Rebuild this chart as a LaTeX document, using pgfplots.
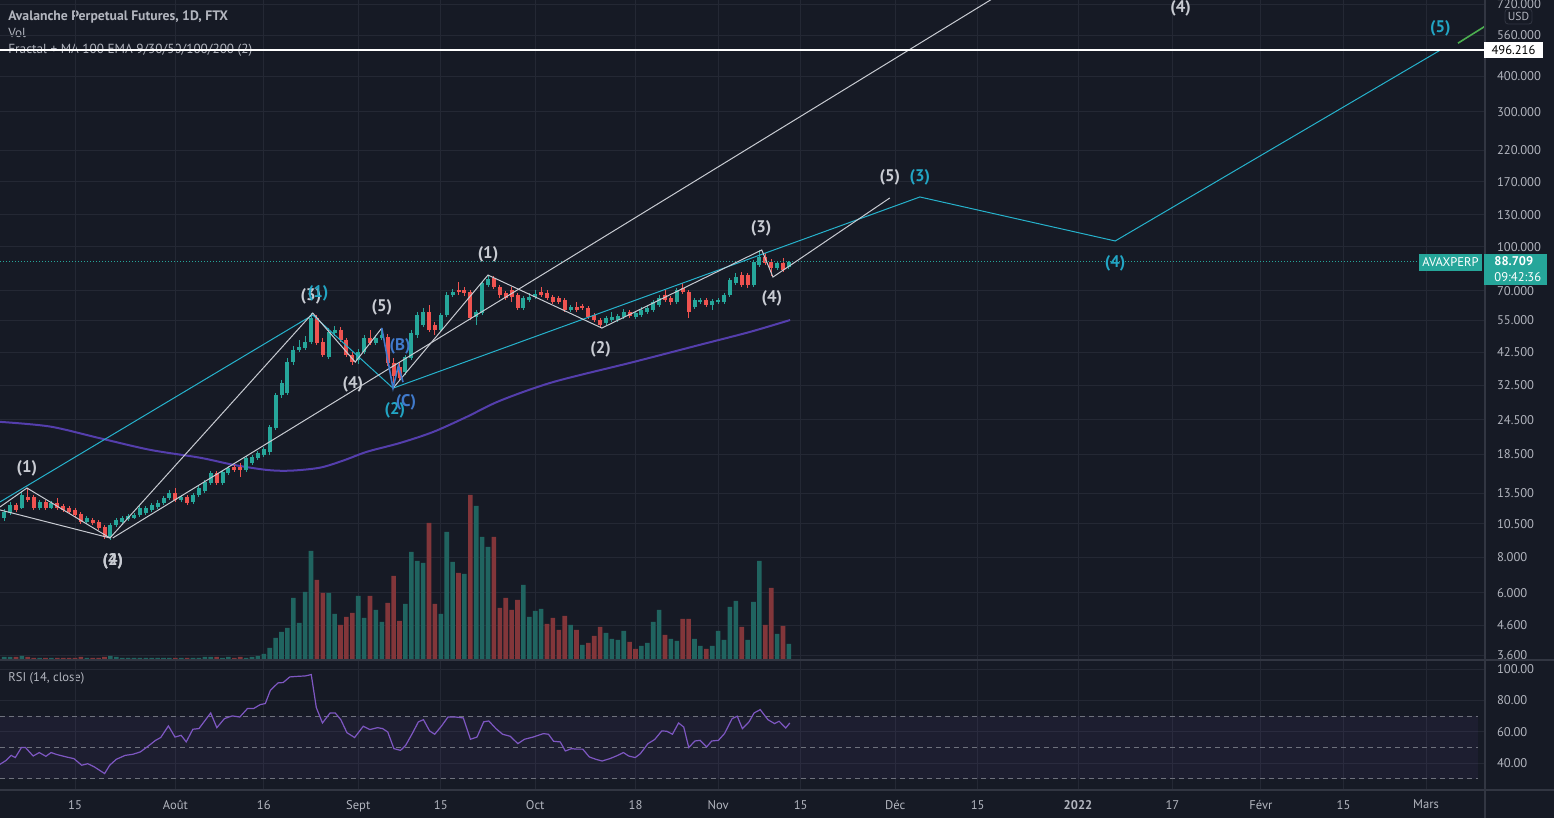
\documentclass[border=0pt]{standalone}
\usepackage{pgfplots}
\pgfplotsset{compat=1.18}
\usepackage{fontspec}
\setmainfont{PT Sans}
\definecolor{bg}{RGB}{22,26,37}
\definecolor{gridc}{RGB}{36,40,52}
\definecolor{sepc}{RGB}{50,54,66}
\definecolor{txt}{RGB}{178,181,190}
\definecolor{upc}{RGB}{38,166,154}
\definecolor{dnc}{RGB}{239,83,80}
\definecolor{volup}{RGB}{32,100,96}
\definecolor{voldn}{RGB}{130,54,58}
\definecolor{wavew}{RGB}{200,203,210}
\definecolor{cyanw}{RGB}{38,178,204}
\definecolor{cyanl}{RGB}{34,165,196}
\definecolor{bluew}{RGB}{64,122,204}
\definecolor{mac}{RGB}{84,62,172}
\definecolor{rsic}{RGB}{126,87,194}
\definecolor{dashc}{RGB}{110,113,124}
\definecolor{greenl}{RGB}{76,175,80}
\newcommand\fs[1]{\fontsize{#1}{#1}\selectfont}
\begin{document}
\begin{tikzpicture}
\fill[bg] (0pt,0pt) rectangle (777pt,409pt);
\useasboundingbox (0pt,0pt) rectangle (777pt,409pt);
\node[anchor=west, inner sep=0pt, text=txt, font=\fs{6.85pt}\bfseries] at (4pt,400.65pt) {Avalanche Perpetual Futures, 1D, FTX};
\node[anchor=west, inner sep=0pt, text=txt, font=\fs{6.6pt}] at (4pt,392.35pt) {Vol};
\node[anchor=west, inner sep=0pt, text=txt, font=\fs{6.6pt}] at (4pt,383.65pt) {Fractal + MA 100 EMA 9/30/50/100/200 (2)};
\node[anchor=west, inner sep=0pt, text=txt, font=\fs{6.3pt}] at (4pt,70pt) {RSI (14, close)};

% grid axis with price labels
\begin{axis}[
  at={(0pt,79pt)}, anchor=south west, scale only axis,
  width=742.5pt, height=330pt,
  xmin=1.2881, xmax=252.98,
  ymode=log, ymin=3.472, ymax=746.2,
  axis line style={draw=none},
  xtick={14,31,46,62,76,92,109,123,137,153,167,184,200,215,229,243},
  xticklabel=\empty,
  ytick={3.6,4.6,6,8,10.5,13.5,18.5,24.5,32.5,42.5,55,70,100,130,170,220,300,400,560,720},
  yticklabels={3.600,4.600,6.000,8.000,10.500,13.500,18.500,24.500,32.500,42.500,55.000,70.000,100.000,130.000,170.000,220.000,300.000,400.000,560.000,720.000},
  yticklabel pos=right,
  yticklabel style={anchor=west, xshift=2.5pt, text=txt, font=\fs{6.3pt}},
  major tick length=0pt, minor tick length=0pt,
  xmajorgrids, ymajorgrids,
  major grid style={draw=gridc, line width=0.5pt},
  clip=false,
]
\addplot[draw=none] coordinates {(10,10)(20,20)};
\end{axis}

% volume
\begin{axis}[at={(0pt,79pt)}, anchor=south west, scale only axis, width=742.5pt, height=330pt,
  xmin=1.2881, xmax=252.98, ymin=0, ymax=660, hide axis]
\addplot[ybar, bar width=0.78, bar shift=0pt, fill=volup, draw=none] coordinates {
(2,3)(3,3)(5,4)(8,2)(10,2)(16,2)(20,4)(21,3)(22,2)(23,2)(24,2)(25,2)(26,2)(27,2)(28,2)(29,2)(30,2)(32,2)(34,2)(35,2)(36,3)(37,3)(39,2)(40,3)(43,2)(44,3)(45,4)
(46,6)(47,12)(48,22)(49,28)(50,32)(51,62)(52,37)(53,68)(54,109)(57,67)(58,46)(62,64)(63,42)(65,50)(66,38)(70,56)(71,108)(72,99)(73,97)(76,46)(77,128)(78,98)(80,86)(82,154)(83,123)(84,113)(90,75)(91,43)(92,49)(93,51)(98,35)(100,15)(104,27)(105,21)(106,20)(107,29)(110,14)(111,17)(112,38)(113,50)(115,21)(116,19)(119,21)(120,14)(122,14)(123,29)(124,20)(125,53)(126,59)(128,20)(129,58)(130,99)(133,26)(135,16)};
\addplot[ybar, bar width=0.78, bar shift=0pt, fill=voldn, draw=none] coordinates {
(4,3)(6,3)(7,2)(9,2)(11,2)(12,2)(13,2)(14,2)(15,3)(17,2)(18,2)(19,3)(31,2)(33,2)(38,3)(41,2)(42,3)
(55,80)(56,67)(59,35)(60,43)(61,47)(64,64)(67,57)(68,84)(69,39)(74,137)(75,56)(79,87)(81,165)(85,123)(86,52)(87,62)(88,50)(89,60)(94,36)(95,42)(96,30)(97,44)(99,30)(101,17)(102,24)(103,33)(108,18)(109,11)(114,25)(117,41)(118,41)(121,11)(127,33)(131,35)(132,72)(134,34)};
\end{axis}

% price data
\begin{axis}[at={(0pt,79pt)}, anchor=south west, scale only axis, width=742.5pt, height=330pt,
  xmin=1.2881, xmax=252.98, ymode=log, ymin=3.472, ymax=746.2, hide axis, unbounded coords=jump]
\addplot[mac, line width=1pt, smooth] coordinates {(1.29,24.1)(9.76,23.2)(18.2,21.1)(26.7,19.2)(35.2,18.0)(40.8,17.0)(46.5,16.3)(50.5,16.2)(55.5,16.6)(59.5,17.6)(63.5,18.9)(69.1,20.3)(74.7,22.2)(80.4,25.1)(86.0,28.6)(95.0,33.3)(108.6,39.2)(119.9,45.1)(128.4,50.1)(135.2,55.2)};
% green wicks
\addplot[upc, line width=0.5pt] coordinates {(2,10.76)(2,11.87)(2,nan) (3,11.30)(3,12.56)(3,nan) (5,11.87)(5,13.63)(5,nan) (8,11.77)(8,12.77)(8,nan) (10,11.87)(10,12.67)(10,nan) (16,10.50)(16,11.21)(16,nan) (20,9.22)(20,10.59)(20,nan) (21,10.25)(21,11.03)(21,nan) (22,10.50)(22,11.21)(22,nan) (23,10.76)(23,11.40)(23,nan) (24,10.94)(24,11.49)(24,nan) (25,11.12)(25,12.26)(25,nan) (26,11.30)(26,12.16)(26,nan) (27,11.58)(27,12.46)(27,nan) (28,11.87)(28,12.77)(28,nan) (29,12.26)(29,13.19)(29,nan) (30,12.77)(30,13.85)(30,nan) (32,12.56)(32,13.30)(32,nan) (34,12.36)(34,13.52)(34,nan) (35,13.08)(35,14.30)(35,nan) (36,13.52)(36,15.02)(36,nan) (37,14.42)(37,16.16)(37,nan) (39,14.42)(39,16.29)(39,nan) (40,15.64)(40,16.8)(40,nan) (43,16.03)(43,18.3)(43,nan) (44,17.0)(44,18.4)(44,nan) (45,17.67)(45,19.0)(45,nan) (46,18.1)(46,19.65)(46,nan) (47,18.4)(47,23.5)(47,nan) (48,22.6)(48,30.5)(48,nan) (49,29.3)(49,33.9)(49,nan) (50,30.0)(50,40.5)(50,nan) (51,38.3)(51,44.7)(51,nan) (52,42.6)(52,46.9)(52,nan) (53,43.3)(53,48.5)(53,nan) (54,45.4)(54,58.4)(54,nan) (57,40.2)(57,51.7)(57,nan) (58,48.5)(58,52.6)(58,nan) (62,38.6)(62,43.6)(62,nan) (63,41.9)(63,48.9)(63,nan) (65,45.1)(65,48.9)(65,nan) (66,46.9)(66,51.7)(66,nan) (70,35.3)(70,41.5)(70,nan) (71,39.9)(71,50.9)(71,nan) (72,47.7)(72,58.9)(72,nan) (73,52.1)(73,60.9)(73,nan) (76,50.1)(76,58.4)(76,nan) (77,56.6)(77,69.3)(77,nan) (78,66.6)(78,71.1)(78,nan) (82,53.0)(82,59.9)(82,nan) (83,57.5)(83,75.8)(83,nan) (84,72.2)(84,79.6)(84,nan) (90,59.9)(90,67.1)(90,nan) (91,63.9)(91,68.8)(91,nan) (92,65.5)(92,70.5)(92,nan) (98,58.9)(98,62.4)(98,nan) (104,53.0)(104,57.0)(104,nan) (105,54.3)(105,58.9)(105,nan) (106,54.3)(106,58.0)(106,nan) (107,55.7)(107,60.4)(107,nan) (109,55.7)(109,59.4)(109,nan) (110,56.6)(110,61.4)(110,nan) (111,58.0)(111,62.4)(111,nan) (112,58.9)(112,65.0)(112,nan) (113,61.4)(113,67.7)(113,nan) (116,62.9)(116,71.6)(116,nan) (119,60.4)(119,66.0)(119,nan) (120,62.9)(120,66.0)(120,nan) (122,59.9)(122,65.5)(122,nan) (123,62.9)(123,66.0)(123,nan) (124,62.9)(124,68.8)(124,nan) (125,66.6)(125,77.7)(125,nan) (126,73.4)(126,80.9)(126,nan) (129,72.2)(129,90.0)(129,nan) (130,85.0)(130,97.6)(130,nan) (133,82.9)(133,89.2)(133,nan) (135,83.6)(135,89.2)};
% green bodies
\addplot[upc, line width=2pt] coordinates {(2,11.03)(2,11.58)(2,nan) (3,11.49)(3,12.26)(3,nan) (5,11.97)(5,13.30)(5,nan) (8,11.97)(8,12.56)(8,nan) (10,11.97)(10,12.46)(10,nan) (16,10.68)(16,11.03)(16,nan) (20,9.45)(20,10.42)(20,nan) (21,10.42)(21,10.85)(21,nan) (22,10.68)(22,11.03)(22,nan) (23,10.94)(23,11.21)(23,nan) (24,11.03)(24,11.30)(24,nan) (25,11.30)(25,11.97)(25,nan) (26,11.49)(26,11.97)(26,nan) (27,11.77)(27,12.26)(27,nan) (28,12.06)(28,12.46)(28,nan) (29,12.46)(29,12.98)(29,nan) (30,12.98)(30,13.52)(30,nan) (32,12.77)(32,13.08)(32,nan) (34,12.56)(34,13.30)(34,nan) (35,13.30)(35,14.07)(35,nan) (36,13.74)(36,14.78)(36,nan) (37,14.66)(37,15.90)(37,nan) (39,14.66)(39,16.03)(39,nan) (40,15.90)(40,16.55)(40,nan) (43,16.29)(43,18.0)(43,nan) (44,17.2)(44,18.1)(44,nan) (45,18.0)(45,18.7)(45,nan) (46,18.4)(46,19.33)(46,nan) (47,18.9)(47,23.1)(47,nan) (48,22.9)(48,30.0)(48,nan) (49,30.0)(49,33.1)(49,nan) (50,30.5)(50,39.2)(50,nan) (51,39.2)(51,43.3)(51,nan) (52,43.3)(52,44.3)(52,nan) (53,44.0)(53,46.2)(53,nan) (54,46.2)(54,56.1)(54,nan) (57,40.9)(57,50.1)(57,nan) (58,49.7)(58,50.9)(58,nan) (62,39.9)(62,42.6)(62,nan) (63,42.6)(63,47.7)(63,nan) (65,45.8)(65,47.7)(65,nan) (66,47.7)(66,48.9)(66,nan) (70,36.2)(70,40.9)(70,nan) (71,40.5)(71,49.7)(71,nan) (72,48.9)(72,57.5)(72,nan) (73,53.0)(73,58.9)(73,nan) (76,50.9)(76,57.5)(76,nan) (77,57.5)(77,67.7)(77,nan) (78,67.7)(78,69.3)(78,nan) (82,56.6)(82,58.9)(82,nan) (83,58.4)(83,74.6)(83,nan) (84,73.4)(84,77.1)(84,nan) (90,60.9)(90,66.0)(90,nan) (91,65.0)(91,66.6)(91,nan) (92,66.6)(92,68.2)(92,nan) (98,59.9)(98,61.4)(98,nan) (104,53.9)(104,56.1)(104,nan) (105,55.2)(105,56.6)(105,nan) (106,55.2)(106,57.0)(106,nan) (107,56.6)(107,58.9)(107,nan) (109,56.6)(109,58.4)(109,nan) (110,57.5)(110,59.9)(110,nan) (111,58.9)(111,60.9)(111,nan) (112,59.9)(112,63.9)(112,nan) (113,62.4)(113,66.0)(113,nan) (116,63.9)(116,70.5)(116,nan) (119,61.4)(119,65.0)(119,nan) (120,63.9)(120,65.0)(120,nan) (122,62.4)(122,64.4)(122,nan) (123,63.9)(123,65.0)(123,nan) (124,63.9)(124,67.7)(124,nan) (125,67.7)(125,76.5)(125,nan) (126,74.6)(126,78.3)(126,nan) (129,73.4)(129,88.5)(129,nan) (130,86.4)(130,92.2)(130,nan) (133,84.3)(133,87.8)(133,nan) (135,85.0)(135,88.709)};
% red wicks
\addplot[dnc, line width=0.5pt] coordinates {(4,11.58)(4,12.46)(4,nan) (6,12.56)(6,14.07)(6,nan) (7,11.77)(7,13.30)(7,nan) (9,11.77)(9,12.77)(9,nan) (11,11.77)(11,12.98)(11,nan) (12,11.58)(12,12.36)(12,nan) (13,11.40)(13,12.16)(13,nan) (14,11.12)(14,11.97)(14,nan) (15,10.50)(15,11.58)(15,nan) (17,10.42)(17,11.03)(17,nan) (18,10.00)(18,10.85)(18,nan) (19,9.30)(19,10.42)(19,nan) (31,12.56)(31,14.07)(31,nan) (33,12.26)(33,13.30)(33,nan) (38,14.42)(38,16.16)(38,nan) (41,16.03)(41,17.0)(41,nan) (42,15.39)(42,17.2)(42,nan) (55,45.1)(55,57.5)(55,nan) (56,40.9)(56,47.7)(56,nan) (59,46.2)(59,52.1)(59,nan) (60,40.9)(60,47.7)(60,nan) (61,38.3)(61,42.6)(61,nan) (64,45.1)(64,50.9)(64,nan) (67,38.0)(67,49.3)(67,nan) (68,33.1)(68,40.5)(68,nan) (69,33.6)(69,39.2)(69,nan) (74,50.1)(74,62.4)(74,nan) (75,48.9)(75,54.3)(75,nan) (79,67.7)(79,75.2)(79,nan) (80,67.1)(80,72.2)(80,nan) (81,55.2)(81,70.5)(81,nan) (85,71.1)(85,79.0)(85,nan) (86,66.0)(86,73.4)(86,nan) (87,65.0)(87,69.9)(87,nan) (88,63.9)(88,72.2)(88,nan) (89,59.9)(89,68.8)(89,nan) (93,66.6)(93,72.2)(93,nan) (94,65.0)(94,70.5)(94,nan) (95,62.9)(95,67.7)(95,nan) (96,62.9)(96,67.1)(96,nan) (97,58.9)(97,66.0)(97,nan) (99,58.9)(99,63.9)(99,nan) (100,59.9)(100,62.9)(100,nan) (101,55.7)(101,61.9)(101,nan) (102,54.3)(102,58.4)(102,nan) (103,51.7)(103,56.1)(103,nan) (108,56.1)(108,59.9)(108,nan) (114,63.9)(114,70.5)(114,nan) (115,62.4)(115,67.1)(115,nan) (117,68.2)(117,74.6)(117,nan) (118,56.1)(118,70.5)(118,nan) (121,61.4)(121,66.0)(121,nan) (127,72.2)(127,81.6)(127,nan) (128,71.6)(128,80.9)(128,nan) (131,86.4)(131,95.2)(131,nan) (132,79.0)(132,90.7)(132,nan) (134,81.6)(134,91.4)};
% red bodies
\addplot[dnc, line width=2pt] coordinates {(4,12.26)(4,11.77)(4,nan) (6,13.08)(6,12.77)(6,nan) (7,13.08)(7,11.97)(7,nan) (9,12.56)(9,11.97)(9,nan) (11,12.46)(11,11.97)(11,nan) (12,12.16)(12,11.77)(12,nan) (13,11.97)(13,11.58)(13,nan) (14,11.77)(14,11.30)(14,nan) (15,11.40)(15,10.68)(15,nan) (17,10.85)(17,10.59)(17,nan) (18,10.68)(18,10.16)(18,nan) (19,10.25)(19,9.45)(19,nan) (31,13.52)(31,12.77)(31,nan) (33,13.08)(33,12.46)(33,nan) (38,15.90)(38,14.66)(38,nan) (41,16.7)(41,16.29)(41,nan) (42,16.7)(42,16.29)(42,nan) (55,56.1)(55,45.8)(55,nan) (56,46.2)(56,41.5)(56,nan) (59,50.9)(59,46.9)(59,nan) (60,46.9)(60,41.5)(60,nan) (61,41.5)(61,39.2)(61,nan) (64,47.7)(64,45.8)(64,nan) (67,48.1)(67,38.9)(67,nan) (68,38.9)(68,35.0)(68,nan) (69,37.7)(69,34.4)(69,nan) (74,58.9)(74,50.9)(74,nan) (75,53.0)(75,50.9)(75,nan) (79,70.5)(79,69.3)(79,nan) (80,70.5)(80,68.8)(80,nan) (81,69.3)(81,56.1)(81,nan) (85,77.7)(85,72.2)(85,nan) (86,72.2)(86,67.7)(86,nan) (87,68.8)(87,66.0)(87,nan) (88,70.5)(88,66.6)(88,nan) (89,67.7)(89,60.9)(89,nan) (93,69.3)(93,67.7)(93,nan) (94,68.8)(94,66.0)(94,nan) (95,66.6)(95,63.9)(95,nan) (96,66.0)(96,63.9)(96,nan) (97,65.0)(97,59.9)(97,nan) (99,61.4)(99,59.9)(99,nan) (100,61.9)(100,60.9)(100,nan) (101,60.9)(101,56.6)(101,nan) (102,57.5)(102,55.2)(102,nan) (103,55.2)(103,53.0)(103,nan) (108,58.9)(108,57.0)(108,nan) (114,67.7)(114,65.0)(114,nan) (115,66.0)(115,63.9)(115,nan) (117,71.6)(117,69.3)(117,nan) (118,69.3)(118,58.9)(118,nan) (121,65.0)(121,62.4)(121,nan) (127,79.6)(127,73.4)(127,nan) (128,79.6)(128,73.4)(128,nan) (131,92.2)(131,87.8)(131,nan) (132,88.5)(132,84.3)(132,nan) (134,87.8)(134,82.9)};
% current price line
\addplot[upc, densely dotted, line width=0.5pt] coordinates {(1.2881,88.709)(241.8,88.709)};
% wave drawings
\addplot[cyanw, line width=0.5pt] coordinates {(1.29,12.56)(54.3,57.5)(67.9,31.7)(157.2,150.2)(190.3,105.0)(245.4,496)};
\addplot[wavew, line width=0.5pt] coordinates {(1.29,11.77)(19.93,9.37)};
\addplot[wavew, line width=0.5pt] coordinates {(1.29,12.06)(5.86,14.07)(19.93,9.37)(54.3,58.4)(61.5,39.2)(66.0,51.7)};
\addplot[wavew, line width=0.5pt] coordinates {(20.4,9.37)(170.8,783)};
\addplot[wavew, line width=0.5pt] coordinates {(67.9,31.7)(84.0,79.6)(103.3,51.7)(130.4,97.6)(132.3,78.3)(152.1,149.0)};
\addplot[bluew, line width=0.8pt] coordinates {(66.0,51.7)(67.9,31.7)(68.8,38.0)(69.6,33.3)};
\addplot[white, line width=1.4pt] coordinates {(1.2881,496.216)(252.98,496.216)};
\addplot[greenl, line width=0.8pt] coordinates {(248.4,525)(253.5,612)};
% labels
\begin{scope}[every node/.style={font=\fs{8.4pt}\bfseries, inner sep=0pt, text=wavew}]
\node at (axis cs:5.86,16.55) {(1)};
\node at (axis cs:20.4,7.77) {(2)};
\node at (axis cs:20.4,7.77) {(4)};
\node at (axis cs:54.0,67.1) {(3)};
\node at (axis cs:61.1,32.8) {(4)};
\node at (axis cs:66.0,61.4) {(5)};
\node at (axis cs:84.0,94.5) {(1)};
\node at (axis cs:103.1,43.6) {(2)};
\node at (axis cs:130.3,116.7) {(3)};
\node at (axis cs:132.1,66.0) {(4)};
\node at (axis cs:152.1,176.6) {(5)};
\node at (axis cs:201.4,699) {(4)};
\end{scope}
\begin{scope}[every node/.style={font=\fs{8.4pt}\bfseries, inner sep=0pt, text=cyanl}]
\node at (axis cs:55.2,68.8) {(1)};
\node at (axis cs:68.2,26.55) {(2)};
\node at (axis cs:157.2,176.6) {(3)};
\node at (axis cs:190.3,87.8) {(4)};
\node at (axis cs:245.4,594) {(5)};
\end{scope}
\begin{scope}[every node/.style={font=\fs{8.4pt}\bfseries, inner sep=0pt, text=bluew}]
\node at (axis cs:69.1,44.7) {(B)};
\node at (axis cs:70.1,28.3) {(C)};
\end{scope}
\end{axis}

% RSI pane
\begin{axis}[at={(0pt,14pt)}, anchor=south west, scale only axis, width=742.5pt, height=65pt,
  xmin=1.2881, xmax=252.98, ymin=22.9, ymax=105.9,
  axis line style={draw=none},
  xtick={14,31,46,62,76,92,109,123,137,153,167,184,200,215,229,243},
  xticklabels={15,Août,16,Sept,15,Oct,18,Nov,15,Déc,15,\textbf{2022},17,Févr,15,Mars},
  xticklabel style={text=txt, font=\fs{6.3pt}, yshift=-1.5pt},
  ytick={40,60,80,100}, yticklabels={40.00,60.00,80.00,100.00},
  yticklabel pos=right, yticklabel style={anchor=west, xshift=2.5pt, text=txt, font=\fs{6.3pt}},
  major tick length=0pt,
  xmajorgrids, ymajorgrids, major grid style={draw=gridc, line width=0.5pt},
]
\addplot[fill=rsic, fill opacity=0.07, draw=none] coordinates {(1.2881,30)(251.8,30)(251.8,70)(1.2881,70)};
\addplot[dashc, dash pattern=on 2.5pt off 2pt, line width=0.5pt] coordinates {(1.2881,70)(251.8,70)};
\addplot[dashc, dash pattern=on 2.5pt off 2pt, line width=0.5pt] coordinates {(1.2881,50)(251.8,50)};
\addplot[dashc, dash pattern=on 2.5pt off 2pt, line width=0.5pt] coordinates {(1.2881,30)(251.8,30)};
\addplot[rsic, line width=0.6pt] coordinates {(1.29,39.3)(2.33,41.8)(3.19,45)(3.88,43.6)(4.92,50)(5.61,50)(6.91,44.6)(7.95,46.8)(9.07,44.4)(9.94,46.8)(10.97,45.5)(12.53,44)(13.83,42.9)(15.13,38.7)(16.16,39.7)(17.29,37.6)(19.02,33.4)(19.88,38.7)(21.0,42.5)(22.5,45)(23.8,45.7)(25.07,47.2)(26.37,50.8)(27.66,54.6)(28.53,56.4)(29.83,63.8)(30.95,56.7)(31.99,57.8)(32.85,53.6)(33.98,61.7)(35.01,62.1)(37.0,72.1)(38.04,62.7)(39.34,68.5)(40.64,70.2)(41.93,69.5)(43.23,74.9)(44.27,74.9)(45.39,77.4)(46.26,78.1)(47.12,86.6)(48.42,91.3)(49.28,91.5)(50.41,95.1)(51.88,95.5)(53.0,95.7)(54.04,96.6)(54.9,75.5)(55.94,65.7)(57.24,72.1)(58.1,72.1)(59.05,67.8)(60.09,59.5)(61.39,56.4)(62.86,63.6)(63.98,61.5)(65.28,62.7)(66.15,62.1)(67.01,59.9)(68.05,49.3)(69.17,48.2)(70.04,51.4)(71.16,58.9)(72.2,66.4)(73.06,67.8)(74.1,60.6)(74.97,58.5)(76.09,63.6)(77.22,69.5)(78.51,69.5)(79.81,68.9)(81.02,55.3)(82.14,56.7)(83.27,66.4)(84.13,67)(85.34,62.1)(86.47,58.5)(87.76,57.2)(89.06,52.5)(90.19,55.3)(91.66,56.7)(93.39,58.9)(94.25,58.5)(95.12,54)(96.24,53.6)(97.11,47.8)(98.14,49.3)(99.01,49)(100.05,49)(101.17,44)(102.29,42.5)(103.33,41.4)(104.63,42.9)(105.75,44.6)(106.96,46.8)(107.83,44.6)(108.95,43.6)(109.82,46.1)(111.11,52.5)(112.24,55.1)(113.45,60.6)(114.31,60.4)(115.26,58.5)(116.3,65.7)(117.17,63.1)(118.03,50)(119.07,54.2)(119.93,54.6)(121.06,50.4)(121.92,54.2)(123.05,54.6)(124.08,58.9)(125.38,68.5)(126.25,70)(127.11,62.1)(128.24,66.4)(129.1,72.1)(130.14,74.2)(131.44,67.8)(132.56,65.3)(133.34,66.8)(134.46,62.5)(135.16,65.7)};
\end{axis}

% pane separators
\draw[sepc, line width=0.6pt] (0pt,79pt) -- (777pt,79pt);
\draw[sepc, line width=0.6pt] (0pt,14pt) -- (777pt,14pt);
\draw[sepc, line width=0.6pt] (742.5pt,0pt) -- (742.5pt,409pt);

% scale tags
\node[fill=white, text=black, font=\fs{6.3pt}, inner sep=0pt, minimum width=29.5pt, minimum height=8pt] at (756.75pt,384pt) {496.216};
\node[fill=bg, draw=sepc, rounded corners=1.5pt, text=txt, font=\fs{5.8pt}, inner sep=0pt, minimum width=13.5pt, minimum height=7.5pt] at (759.25pt,400.75pt) {USD};
\node[fill=upc, text=white, font=\fs{6.3pt}, inner sep=0pt, minimum width=31.5pt, minimum height=8.5pt] at (725.25pt,277.75pt) {AVAXPERP};
\node[fill=upc, inner sep=0pt, minimum width=31.5pt, minimum height=15.5pt] at (757.75pt,274.25pt) {};
\node[text=white, font=\fs{6.3pt}\bfseries, anchor=west, inner sep=0pt] at (747pt,278.5pt) {88.709};
\node[text=white, font=\fs{6.3pt}, anchor=west, inner sep=0pt] at (747pt,270.5pt) {09:42:36};
\end{tikzpicture}
\end{document}
